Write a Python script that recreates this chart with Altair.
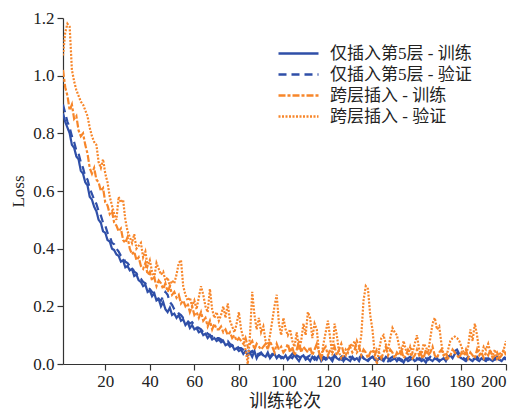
import altair as alt
import pandas as pd

series_names = ["仅插入第5层 - 训练", "仅插入第5层 - 验证", "跨层插入 - 训练", "跨层插入 - 验证"]
series_colors = ["#2f4fa8", "#2f4fa8", "#f7862a", "#f7862a"]
series_dash = [[1, 0], [8, 5], [7, 2, 3, 2], [2, 1.5]]

x_ticks = [20, 40, 60, 80, 100, 120, 140, 160, 180, 200]
y_ticks = [0.0, 0.2, 0.4, 0.6, 0.8, 1.0, 1.2]

epochs = list(range(1, 201))

blue_train = [
    .87, .84, .82, .80, .76, .75, .72, .71, .67, .66,
    .63, .62, .58, .57, .545, .53, .50, .49, .46, .455,
    .43, .425, .40, .395, .38, .375, .355, .36, .335, .34,
    .325, .33, .305, .31, .29, .285, .27, .275, .25, .255,
    .235, .245, .22, .225, .20, .215, .19, .18, .195, .17,
    .175, .16, .17, .15, .155, .135, .145, .125, .135, .12,
    .125, .11, .115, .10, .105, .09, .10, .085, .09, .08,
    .085, .075, .08, .065, .07, .06, .065, .05, .055, .045,
    .05, .035, .045, .03, .04, .025, .045, .02, .035, .04,
    .03, .025, .04, .02, .03, .035, .02, .03, .025, .02,
    .03, .015, .025, .02, .035, .02, .01, .025, .03, .015,
    .02, .01, .025, .015, .02, .03, .01, .02, .015, .025,
    .02, .01, .03, .02, .015, .025, .01, .02, .015, .01,
    .025, .015, .02, .01, .03, .02, .015, .01, .02, .025,
    .015, .01, .02, .015, .01, .025, .02, .01, .015, .02,
    .01, .02, .015, .005, .02, .01, .015, .02, .01, .015,
    .02, .01, .015, .005, .02, .015, .01, .02, .015, .01,
    .015, .02, .01, .025, .03, .02, .035, .04, .025, .02,
    .015, .01, .02, .015, .01, .02, .015, .01, .02, .015,
    .01, .02, .015, .01, .02, .025, .015, .01, .02, .015,
]

blue_val = [
    .90, .87, .84, .82, .79, .77, .74, .73, .70, .68,
    .65, .64, .61, .59, .57, .555, .53, .515, .49, .48,
    .455, .445, .42, .415, .40, .39, .375, .37, .355, .35,
    .34, .335, .32, .315, .30, .295, .285, .28, .265, .26,
    .25, .245, .235, .225, .22, .235, .25, .24, .215, .205,
    .19, .185, .175, .17, .16, .155, .15, .14, .145, .135,
    .13, .125, .12, .11, .115, .105, .10, .095, .10, .09,
    .09, .085, .08, .075, .08, .07, .065, .06, .065, .055,
    .055, .05, .045, .05, .04, .045, .035, .04, .03, .035,
    .03, .035, .03, .025, .035, .03, .025, .03, .02, .025,
    .03, .02, .025, .035, .02, .03, .025, .02, .03, .02,
    .025, .03, .02, .025, .015, .03, .02, .025, .02, .015,
    .025, .02, .03, .02, .025, .015, .02, .03, .02, .025,
    .02, .015, .025, .02, .03, .02, .025, .015, .02, .025,
    .02, .015, .02, .025, .015, .02, .01, .02, .025, .015,
    .02, .015, .01, .02, .015, .02, .025, .015, .01, .02,
    .015, .02, .01, .02, .015, .025, .02, .015, .02, .01,
    .02, .015, .02, .025, .03, .035, .045, .05, .035, .025,
    .02, .015, .025, .02, .015, .02, .025, .015, .02, .015,
    .02, .015, .02, .025, .015, .02, .015, .02, .025, .02,
]

orange_train = [
    1.02, .96, .93, .88, .90, .85, .86, .81, .79, .80,
    .76, .73, .68, .66, .68, .64, .63, .60, .61, .56,
    .55, .52, .53, .49, .48, .46, .47, .43, .42, .44,
    .40, .38, .39, .36, .37, .34, .33, .35, .31, .32,
    .29, .30, .27, .29, .28, .26, .28, .25, .27, .24,
    .25, .23, .24, .21, .22, .20, .21, .18, .20, .17,
    .18, .16, .18, .15, .16, .13, .15, .12, .14, .12,
    .12, .13, .11, .12, .10, .11, .09, .10, .08, .09,
    .08, .07, .09, .06, .07, .08, .05, .07, .06, .05,
    .06, .07, .05, .08, .06, .04, .07, .05, .06, .04,
    .05, .07, .04, .06, .03, .05, .08, .04, .06, .05,
    .04, .06, .03, .05, .07, .04, .02, .05, .06, .03,
    .05, .04, .06, .03, .05, .07, .04, .03, .05, .06,
    .04, .05, .08, .06, .03, .05, .04, .02, .04, .05,
    .03, .05, .04, .02, .04, .06, .03, .05, .04, .02,
    .04, .03, .05, .02, .03, .05, .04, .02, .03, .05,
    .03, .04, .02, .05, .03, .04, .06, .03, .02, .04,
    .05, .03, .04, .02, .03, .05, .04, .03, .02, .04,
    .03, .05, .02, .04, .03, .02, .05, .03, .04, .02,
    .04, .03, .05, .02, .03, .04, .02, .03, .05, .03,
]

orange_val = [
    1.07, 1.15, 1.18, 1.17, 1.02, .98, .95, .93, .91, .90,
    .88, .86, .82, .79, .77, .76, .70, .68, .71, .66,
    .63, .58, .55, .52, .50, .58, .56, .57, .50, .46,
    .44, .42, .45, .40, .41, .42, .37, .39, .34, .36,
    .32, .30, .35, .33, .31, .32, .29, .30, .27, .29,
    .28, .31, .35, .36, .27, .24, .22, .23, .20, .22,
    .19, .23, .27, .24, .20, .18, .26, .19, .16, .18,
    .15, .17, .20, .16, .21, .15, .13, .11, .14, .18,
    .12, .09, .05, .00, .10, .25, .17, .12, .16, .11,
    .13, .08, .06, .10, .15, .20, .24, .14, .10, .16,
    .12, .10, .12, .08, .06, .11, .05, .08, .14, .10,
    .18, .16, .09, .14, .12, .04, .02, .07, .11, .15,
    .09, .03, .14, .10, .04, .02, .03, .05, .04, .07,
    .06, .08, .04, .05, .10, .22, .27, .26, .17, .12,
    .04, .00, .05, .09, .10, .07, .05, .09, .125, .11,
    .10, .06, .03, .08, .05, .03, .06, .04, .07, .10,
    .05, .03, .07, .06, .04, .09, .14, .16, .12, .13,
    .07, .03, .02, .05, .08, .09, .095, .09, .08, .06,
    .04, .03, .06, .12, .08, .14, .10, .04, .03, .06,
    .05, .07, .04, .03, .05, .02, .04, .03, .05, .08,
]

all_series = [blue_train, blue_val, orange_train, orange_val]
rows = []
for name, vals in zip(series_names, all_series):
    for e, v in zip(epochs, vals):
        rows.append({"epoch": e, "loss": v, "series": name})
df = pd.DataFrame(rows)

serif = "'Liberation Serif', 'Noto Sans CJK SC', serif"

legend_cfg = dict(title=None, orient="none", legendX=224, legendY=24,
                  symbolType="M-2,0H2", symbolSize=400,
                  symbolStrokeWidth=2.5, labelFontSize=17,
                  labelFont=serif, labelColor="#222",
                  rowPadding=1, labelOffset=20)

chart = alt.Chart(df).mark_line(strokeWidth=2.2, clip=True).encode(
    x=alt.X("epoch:Q",
            scale=alt.Scale(domain=[1, 200], nice=False, zero=False),
            axis=alt.Axis(values=x_ticks, title="训练轮次", grid=False,
                          tickSize=6, labelPadding=3, titlePadding=3,
                          titleFontSize=18, labelFontSize=17)),
    y=alt.Y("loss:Q",
            scale=alt.Scale(domain=[0, 1.2], nice=False),
            axis=alt.Axis(values=y_ticks, format=".1f", title="Loss", grid=False,
                          tickSize=6, labelPadding=3, titlePadding=5,
                          titleFontSize=17, labelFontSize=17)),
    color=alt.Color("series:N",
                    scale=alt.Scale(domain=series_names, range=series_colors),
                    legend=alt.Legend(**legend_cfg)),
    strokeDash=alt.StrokeDash("series:N",
                              scale=alt.Scale(domain=series_names, range=series_dash),
                              legend=alt.Legend(**legend_cfg)),
    order=alt.Order("epoch:Q"),
).properties(
    width=443, height=346,
    autosize=alt.AutoSizeParams(type="none"),
    padding={"left": 55, "top": 10, "right": 5, "bottom": 48},
).configure_view(
    stroke=None
).configure_axis(
    labelFont=serif, titleFont=serif, labelColor="#222", titleColor="#222",
    domainColor="#333", tickColor="#333", titleFontWeight="normal",
    domainWidth=1.2, tickWidth=1.2,
)

chart.save("out.html", embed_options={"renderer": "svg", "actions": False})
